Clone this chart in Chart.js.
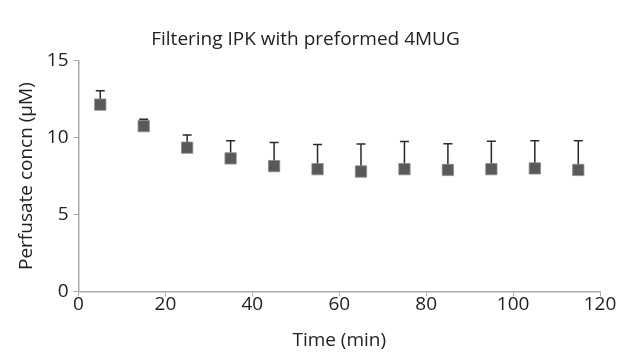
<!DOCTYPE html>
<html><head><meta charset="utf-8">
<script src="https://cdn.jsdelivr.net/npm/chart.js@4"></script>
<style>html,body{margin:0;padding:0;background:#fff}#wrap{width:624px;height:352px}</style>
</head><body><div id="wrap"><canvas id="c" width="624" height="352"></canvas></div>
<script>
const times = [5, 15, 25, 35, 45, 55, 65, 75, 85, 95, 105, 115];
const means = [12.15, 10.75, 9.35, 8.65, 8.15, 7.95, 7.8, 7.95, 7.9, 7.95, 8.0, 7.9];
const errs = [0.9, 0.45, 0.82, 1.15, 1.53, 1.6, 1.78, 1.8, 1.7, 1.82, 1.8, 1.9];
const xTicks = [0, 20, 40, 60, 80, 100, 120];
const yTicks = [0, 5, 10, 15];

const errorBars = {
  id: 'errorBars',
  beforeDatasetsDraw(chart) {
    const ctx = chart.ctx, xs = chart.scales.x, ys = chart.scales.y;
    ctx.save();
    ctx.strokeStyle = '#2a2a2a';
    ctx.lineWidth = 1.5;
    times.forEach((t, i) => {
      const px = xs.getPixelForValue(t);
      const y0 = ys.getPixelForValue(means[i]);
      const y1 = ys.getPixelForValue(means[i] + errs[i]);
      ctx.beginPath();
      ctx.moveTo(px, y0); ctx.lineTo(px, y1);
      ctx.moveTo(px - 4.5, y1); ctx.lineTo(px + 4.5, y1);
      ctx.stroke();
    });
    ctx.restore();
  }
};

const font = "'Open Sans', sans-serif";
new Chart(document.getElementById('c'), {
  type: 'scatter',
  data: { datasets: [{
    data: times.map((t, i) => ({x: t, y: means[i]})),
    pointStyle: 'rect',
    pointRadius: 8,
    backgroundColor: '#595959',
    borderColor: '#8a8a8a',
    borderWidth: 0.8
  }]},
  options: {
    responsive: false, animation: false,
    layout: { padding: { left: 11, right: 24, top: 20, bottom: 0 } },
    plugins: {
      legend: { display: false }, tooltip: { enabled: false },
      title: { display: true, text: 'Filtering IPK with preformed 4MUG', color: '#222',
        font: { family: font, size: 19, weight: 'normal' }, padding: { top: 8, bottom: 10 } }
    },
    scales: {
      x: { type: 'linear', min: 0, max: 120,
        afterBuildTicks: s => { s.ticks = xTicks.map(v => ({value: v})); },
        grid: { drawOnChartArea: false, drawTicks: true, tickLength: 5, color: '#aaa' },
        border: { color: '#aaa', width: 1.5 },
        ticks: { color: '#222', font: { family: font, size: 19 }, padding: -3 },
        title: { display: true, text: 'Time (min)', color: '#222', font: { family: font, size: 19 }, padding: { top: 16, bottom: 0 } }
      },
      y: { min: 0, max: 15,
        afterBuildTicks: s => { s.ticks = yTicks.map(v => ({value: v})); },
        grid: { drawOnChartArea: false, drawTicks: true, tickLength: 5, color: '#aaa' },
        border: { color: '#aaa', width: 1.5 },
        ticks: { color: '#222', font: { family: font, size: 19 }, padding: 5 },
        title: { display: true, text: 'Perfusate concn (μM)', color: '#222', font: { family: font, size: 19 }, padding: { bottom: 4 } }
      }
    }
  },
  plugins: [errorBars]
});
</script></body></html>
